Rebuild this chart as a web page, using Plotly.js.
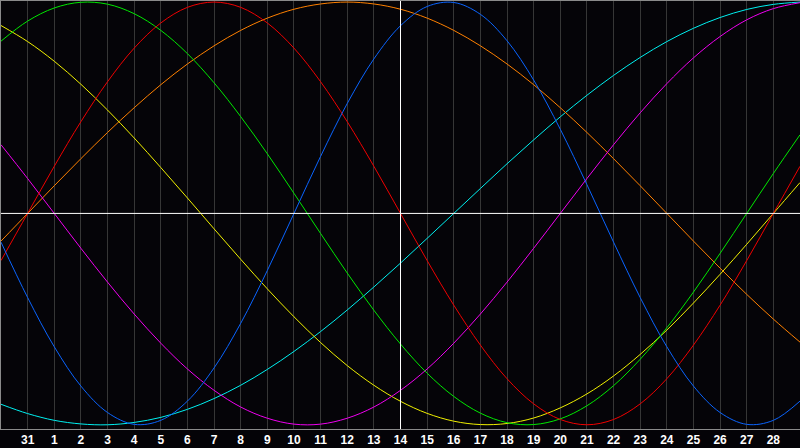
<!DOCTYPE html>
<html>
<head>
<meta charset="utf-8">
<script src="https://cdn.plot.ly/plotly-3.0.1.min.js"></script>
<style>
  html, body { margin: 0; padding: 0; background: #040307; }
  #chart { width: 800px; height: 448px; }
</style>
</head>
<body>
<div id="chart"></div>
<script>
    // day index 0..30 across the chart (Jan 30 .. Mar 1), labels on days 1..29
    let days = [0, 1, 2, 3, 4, 5, 6, 7, 8, 9, 10, 11, 12, 13, 14, 15,
                16, 17, 18, 19, 20, 21, 22, 23, 24, 25, 26, 27, 28, 29, 30];
    let tickDays = [1, 2, 3, 4, 5, 6, 7, 8, 9, 10, 11, 12, 13, 14, 15,
                    16, 17, 18, 19, 20, 21, 22, 23, 24, 25, 26, 27, 28, 29];
    let tickLabels = ['31', '1', '2', '3', '4', '5', '6', '7', '8', '9', '10', '11', '12', '13', '14',
                      '15', '16', '17', '18', '19', '20', '21', '22', '23', '24', '25', '26', '27', '28'];
    let today = 15;

    // daily values
    let physical = [-0.136, -0.398, -0.631, -0.817, -0.942, -0.998, -0.979, -0.888, -0.731, -0.520,
                    -0.270, 0, 0.270, 0.520, 0.731, 0.888, 0.979, 0.998, 0.942, 0.817, 0.631, 0.398,
                    0.136, -0.136, -0.398, -0.631, -0.817, -0.942, -0.998, -0.979, -0.888];
    let emotional = [-0.223, 0, 0.223, 0.434, 0.623, 0.782, 0.901, 0.975, 1, 0.975, 0.901, 0.782,
                     0.623, 0.434, 0.223, 0, -0.223, -0.434, -0.623, -0.782, -0.901, -0.975, -1,
                     -0.975, -0.901, -0.782, -0.623, -0.434, -0.223, 0, 0.223];
    let intellectual = [0.815, 0.910, 0.972, 0.999, 0.990, 0.945, 0.866, 0.756, 0.618, 0.458, 0.282,
                        0.095, -0.095, -0.282, -0.458, -0.618, -0.756, -0.866, -0.945, -0.990, -0.999,
                        -0.972, -0.910, -0.815, -0.690, -0.541, -0.372, -0.189, 0, 0.189, 0.372];
    let intuitive = [0.325, 0.165, 0, -0.165, -0.325, -0.476, -0.614, -0.736, -0.837, -0.916, -0.969,
                     -0.997, -0.997, -0.969, -0.916, -0.837, -0.736, -0.614, -0.476, -0.325, -0.165,
                     0, 0.165, 0.325, 0.476, 0.614, 0.736, 0.837, 0.916, 0.969, 0.997];
    let aesthetic = [0.889, 0.813, 0.720, 0.611, 0.489, 0.357, 0.217, 0.073, -0.073, -0.217, -0.357,
                     -0.489, -0.611, -0.720, -0.813, -0.889, -0.946, -0.983, -0.999, -0.994, -0.968,
                     -0.920, -0.854, -0.769, -0.667, -0.552, -0.424, -0.288, -0.146, 0, 0.146];
    let awareness = [-0.131, 0, 0.131, 0.259, 0.383, 0.500, 0.609, 0.707, 0.793, 0.866, 0.924, 0.966,
                     0.991, 1, 0.991, 0.966, 0.924, 0.866, 0.793, 0.707, 0.609, 0.500, 0.383, 0.259,
                     0.131, 0, -0.131, -0.259, -0.383, -0.500, -0.609];
    let spiritual = [-0.903, -0.947, -0.979, -0.996, -1.000, -0.989, -0.965, -0.927, -0.876, -0.813,
                     -0.738, -0.653, -0.559, -0.457, -0.348, -0.235, -0.118, 0, 0.118, 0.235, 0.348,
                     0.457, 0.559, 0.653, 0.738, 0.813, 0.876, 0.927, 0.965, 0.989, 1.000];

    let series = [
        {name: 'Spiritual', y: spiritual, color: '#00f0f0'},
        {name: 'Awareness', y: awareness, color: '#ff8000'},
        {name: 'Aesthetic', y: aesthetic, color: '#f0f000'},
        {name: 'Intuitive', y: intuitive, color: '#f000f0'},
        {name: 'Intellectual', y: intellectual, color: '#00e800'},
        {name: 'Emotional', y: emotional, color: '#f00000'},
        {name: 'Physical', y: physical, color: '#0a64ff'}
    ];

    let traces = series.map((s) => {
        return {
            type: 'scatter',
            mode: 'lines',
            name: s.name,
            x: days,
            y: s.y,
            line: {color: s.color, width: 1, shape: 'spline', smoothing: 1},
            hoverinfo: 'skip'
        };
    });

    let layout = {
        width: 800,
        height: 448,
        margin: {l: 1, r: 0, t: 1, b: 19},
        paper_bgcolor: '#040307',
        plot_bgcolor: '#050408',
        showlegend: false,
        xaxis: {
            range: [0, 30],
            tickvals: tickDays,
            ticktext: tickLabels,
            showgrid: true,
            gridcolor: '#363636',
            gridwidth: 1,
            zeroline: false,
            showline: true,
            linecolor: '#8a8a8a',
            linewidth: 1,
            mirror: true,
            ticks: '',
            ticklabelstandoff: 0,
            tickfont: {family: 'Liberation Sans, Arial, sans-serif', size: 12, color: '#ffffff', weight: 'bold'}
        },
        yaxis: {
            range: [-1.02, 1.005],
            showgrid: false,
            zeroline: false,
            showticklabels: false,
            showline: true,
            linecolor: '#8a8a8a',
            linewidth: 1,
            mirror: true,
            ticks: ''
        },
        shapes: [
            {type: 'line', xref: 'paper', x0: 0, x1: 1, yref: 'y', y0: 0, y1: 0,
             line: {color: '#ffffff', width: 1}},
            {type: 'line', xref: 'x', x0: today, x1: today, yref: 'paper', y0: 0, y1: 1,
             line: {color: '#ffffff', width: 1}}
        ]
    };

    Plotly.newPlot('chart', traces, layout, {displayModeBar: false, staticPlot: true});
</script>
</body>
</html>
